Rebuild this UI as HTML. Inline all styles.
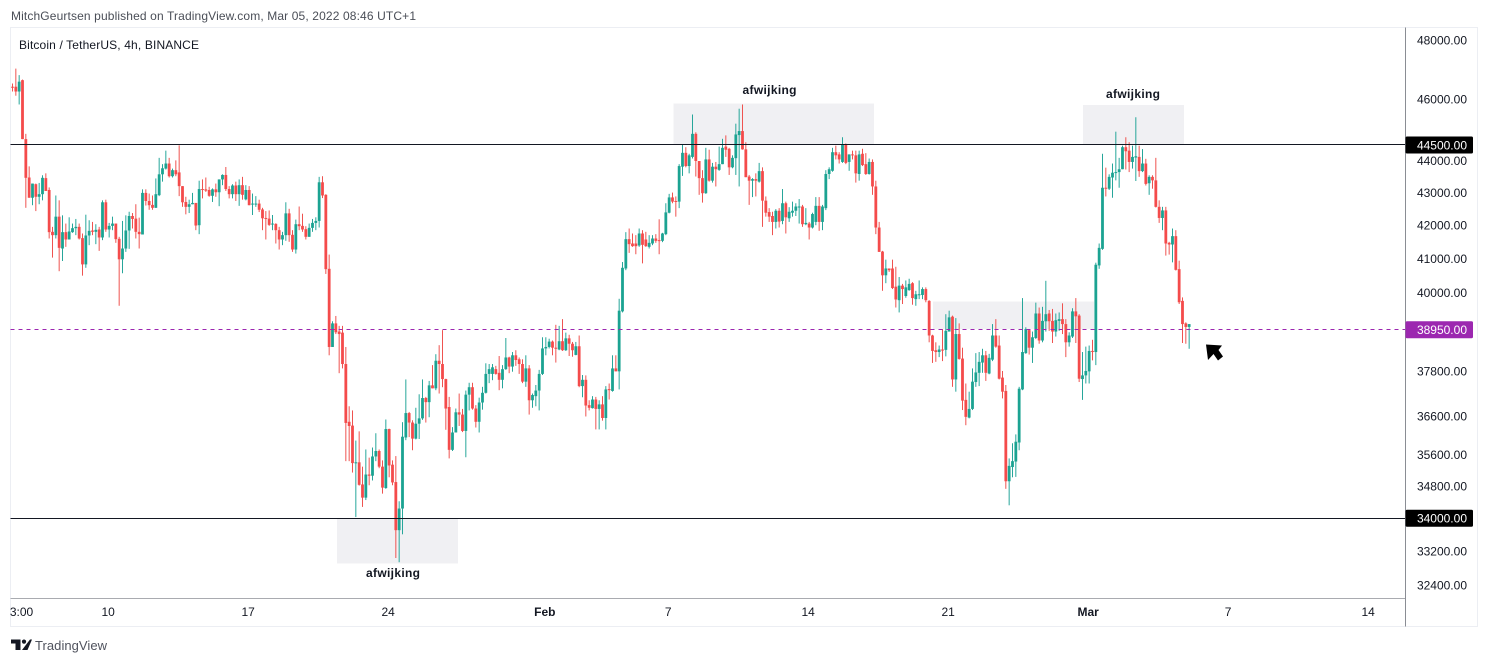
<!DOCTYPE html>
<html lang="en">
<head>
<meta charset="utf-8">
<title>Bitcoin / TetherUS, 4h, BINANCE</title>
<style>
html,body{margin:0;padding:0;background:#fff;width:1488px;height:663px;overflow:hidden}
svg{display:block;font-family:"Liberation Sans",Arial,sans-serif}
</style>
</head>
<body>
<svg id="chart" width="1488" height="663" viewBox="0 0 1488 663" xmlns="http://www.w3.org/2000/svg">
  <defs>
    <clipPath id="plot-clip"><rect x="10.5" y="27.5" width="1394.5" height="570"></rect></clipPath>
    <clipPath id="time-clip"><rect x="10.5" y="598" width="1394.5" height="28"></rect></clipPath>
  </defs>
  <text x="11" y="20" font-size="12" fill="#4a4e57" textLength="405" lengthAdjust="spacing">MitchGeurtsen published on TradingView.com, Mar 05, 2022 08:46 UTC+1</text>
  <rect x="10.5" y="27.5" width="1467" height="599" fill="#fff" stroke="#eceef3" stroke-width="1"></rect>
  <g>
    <rect x="337" y="518" width="121" height="45.5" fill="#f0f0f3"></rect>
    <rect x="673.5" y="103.5" width="200.5" height="41" fill="#f0f0f3"></rect>
    <rect x="933" y="301.5" width="161" height="27.5" fill="#f0f0f3"></rect>
    <rect x="1083" y="105" width="101" height="39.5" fill="#f0f0f3"></rect>
  </g>
  <g id="candles" clip-path="url(#plot-clip)"></g>
  <line x1="10.5" x2="1405" y1="144.5" y2="144.5" stroke="#131722" stroke-width="1"></line>
  <line x1="10.5" x2="1405" y1="518.5" y2="518.5" stroke="#131722" stroke-width="1"></line>
  <line x1="10.5" x2="1405" y1="329.5" y2="329.5" stroke="#9c27b0" stroke-width="1" stroke-dasharray="4 4"></line>
  <text x="19" y="49" font-size="12" fill="#131722" textLength="180" lengthAdjust="spacing">Bitcoin / TetherUS, 4h, BINANCE</text>
  <text x="393" y="577" font-size="12" font-weight="bold" fill="#131722" text-anchor="middle" textLength="54" lengthAdjust="spacing">afwijking</text>
  <text x="769.5" y="94" font-size="12" font-weight="bold" fill="#131722" text-anchor="middle" textLength="54" lengthAdjust="spacing">afwijking</text>
  <text x="1133" y="98" font-size="12" font-weight="bold" fill="#131722" text-anchor="middle" textLength="54" lengthAdjust="spacing">afwijking</text>
  <polygon points="1206,344.5 1222,345.5 1218.5,350 1223,356.5 1218,360.5 1213.5,354 1208,360" fill="#000"></polygon>
  <line x1="1405.5" x2="1405.5" y1="27.5" y2="626.5" stroke="#8a8d94" stroke-width="1"></line>
  <line x1="10.5" x2="1405" y1="598.5" y2="598.5" stroke="#a9abb0" stroke-width="1"></line>
  <g id="price-axis"></g>
  <g id="time-axis" clip-path="url(#time-clip)"></g>
  <g id="price-badges"></g>
  <g>
    <path d="M11 639.5H20.5V650H15.5V643.5H11Z M30 639.5H32L27.5 650H22Z" fill="#131722"></path>
    <circle cx="24" cy="641.6" r="2.1" fill="#131722"></circle>
    <text x="35" y="650" font-size="13" fill="#50535e" textLength="72" lengthAdjust="spacing">TradingView</text>
  </g>
</svg>
<script>
const opens = [
46410,46410,46250,46630,44690,43470,42840,43260,42870,42950,
43450,43080,41800,41700,42260,41300,41790,41570,41790,41910,
41950,41610,40830,41690,41840,41800,41870,41630,42700,41870,
41980,42050,41590,40980,41300,41840,42280,42200,41800,41720,
42990,42740,42620,42530,42920,43570,43750,43910,43510,43700,
43630,43200,42710,42560,42640,42680,42000,43110,43100,43080,
42900,43100,43010,43410,43550,43110,42950,43220,42950,43230,
42790,43080,42630,42640,42660,42480,42220,42200,42020,42040,
41850,41570,41700,42360,41710,41270,42030,41980,41880,41650,
41920,42070,42130,43320,42930,40700,38470,39130,38900,38870,
38000,36450,36350,35380,35400,34840,34510,35090,35060,35550,
35690,35290,34750,36260,35340,34900,33710,34240,36040,36680,
36430,36010,36400,36540,37080,36970,37420,37340,38090,38000,
37590,36840,35720,36170,36700,36640,36210,37170,37370,36800,
36450,36960,37220,37730,37730,37860,37760,37570,37860,38180,
37930,38240,38130,38000,37520,37880,37020,37130,37280,37730,
38430,38470,38620,38450,38400,38630,38380,38710,38560,38250,
38490,37400,37570,36890,36810,37040,36790,36910,36550,37320,
37270,37880,37800,39470,40710,41580,41450,41450,41390,41750,
41570,41350,41450,41600,41550,41530,41730,42380,42850,42740,
42720,43810,44250,43830,44120,44860,43990,43450,42980,44040,
43370,43810,43710,43890,44450,44380,43790,44080,44820,44950,
44360,43500,43370,43420,43340,43670,42750,42400,42280,42100,
42440,42130,42670,42210,42380,42440,42550,42570,42030,42050,
41930,42100,42590,42100,42520,43580,43680,44270,44200,43960,
44530,43960,44200,44170,43580,44220,43890,43580,43960,43190,
41930,41210,40510,40710,40710,40180,39790,40210,39910,40080,
40280,39820,39940,39940,40110,39770,38790,38380,38330,38400,
38390,38900,39320,37580,38830,38150,37030,36560,36790,37510,
37760,38040,38240,37740,38120,38790,38510,37630,37270,34920,
35280,35420,35910,37310,38300,38940,38450,38720,39410,38650,
39190,39410,39200,38900,39200,39250,39110,38600,38760,39470,
39350,37590,37690,37800,38360,38330,40800,41290,43150,43120,
43470,43610,43640,43730,44430,44320,43960,44100,44120,43670,
43910,43290,43490,43380,42560,42220,42450,41470,41420,41670,
40690,39770,39130,39030];
const highs = [
46520,47020,46800,46650,44860,43820,43280,43280,43300,43540,
43600,43160,41950,42910,42760,42300,42050,42240,42050,42190,
42050,41750,42320,42150,42100,42030,41950,42760,42780,42070,
42260,42050,41650,42130,42300,42410,42370,42640,42230,43100,
43100,42970,42910,43440,44090,43890,44320,44090,43750,44010,
44490,43200,42870,42780,42990,42680,43370,43410,43470,43180,
43130,43280,43410,43570,43800,43200,43260,43340,43410,43490,
43230,43200,42970,42890,42780,42530,42430,42450,42310,42060,
41950,41800,42700,42500,41850,42170,42570,42350,41970,42050,
42190,42240,43490,43510,42950,41120,39190,39340,39060,39060,
38470,36860,36750,35960,36200,35290,35730,35520,35780,36150,
35730,35450,36510,36270,35450,35560,34420,36440,37580,36710,
36490,36820,37180,37580,37110,37540,37970,38270,38520,38940,
37600,37110,36310,36800,37200,36790,37280,37490,37490,36890,
37090,37380,38020,38000,38000,37950,38220,37970,38720,38200,
38330,38380,38180,38130,38240,37970,37200,37430,37840,38740,
38740,38700,38650,39090,39060,39250,38870,38810,38610,38610,
38790,37700,37690,37020,37130,37110,37020,37130,37400,37470,
38240,38240,39830,40900,41790,41900,41750,41700,41900,41850,
41800,41700,41700,41730,42180,41770,42670,42960,43000,42880,
43890,44510,44430,44220,45490,44910,43990,43700,44410,44350,
43930,43960,44450,44700,44810,44410,44170,45190,45680,45820,
44590,43550,43450,43600,43930,43790,42880,42520,42410,42490,
42520,43110,42720,42550,42720,42670,42800,42620,42520,42100,
42380,42860,42860,42620,43700,43790,44410,44480,44270,44750,
44550,44200,44320,44320,44320,44380,44240,44070,44040,43370,
42100,41230,40970,40710,40970,40760,40460,40260,40360,40410,
40310,40060,40360,40160,40160,39790,38810,38600,38510,38970,
39390,39490,39350,39280,39130,38450,37470,37250,37880,38300,
38330,38420,38360,38280,39110,39250,38790,37810,37430,35500,
35890,36120,37380,39850,39020,38970,38900,39720,39580,39600,
40350,39510,39540,39410,39440,39700,39250,38880,39560,39850,
39390,38330,38480,38510,38670,40880,41450,44220,43780,43570,
43910,44930,44090,44480,44750,44590,44480,45400,44480,44370,
44060,43540,43540,44090,42760,42560,42560,41500,41900,41850,
40940,39870,39160,39110];
const lows = [
46250,46110,45820,44690,42530,42840,42610,42430,42640,42760,
43050,41600,41030,41600,40630,40930,41350,41570,41770,41700,
41570,40500,40730,41400,41700,41430,41230,41550,41800,41630,
41850,41470,39630,40570,41200,41290,41900,41600,41300,41720,
42600,42470,42470,42530,42890,43340,43720,43470,43470,43510,
42890,42560,42330,42370,42640,41850,41730,42820,43020,42870,
42710,42870,42580,43230,43050,42820,42820,42740,42590,42780,
42760,42610,42310,42560,42400,41850,41570,41980,41850,41450,
41270,41400,41530,41500,41200,41150,41850,41800,41570,41650,
41800,41850,41930,42830,40550,38240,38470,38830,37750,37880,
35430,35430,35140,34030,34810,34280,34450,34820,34940,35430,
35250,34610,34730,35020,34820,33040,32940,33610,35970,36050,
35710,35990,36000,36500,36430,36570,37340,37290,37200,37370,
36240,35500,35690,36170,36340,36180,35530,36750,36770,36300,
36170,36770,37200,37480,37560,37710,37290,37340,37840,37750,
37790,37950,37730,37480,37380,36640,36820,36860,36750,37700,
38240,38430,38240,38040,38380,38360,38360,38220,38200,38240,
37370,37100,36590,36750,36800,36250,36250,36480,36250,37040,
37250,37800,37310,39440,40660,41170,41350,41130,41350,40860,
41350,41300,41400,41470,41130,41490,41700,42360,42670,42260,
42520,43520,43790,43600,44070,43500,42930,42690,42960,43340,
43310,43190,43680,43890,44120,43550,43760,43550,43190,44350,
43480,42620,42860,42880,43310,41950,42260,42100,41700,41900,
41930,42030,41750,42100,42260,42280,42050,41950,42000,41570,
41900,42000,41830,41850,42460,43420,43650,44040,43910,43930,
43890,43680,44040,43310,43370,43830,43550,43560,42930,41730,
41200,40060,40280,40610,40110,39580,39440,39680,39860,40060,
39660,39630,39820,39820,39730,38600,38030,38060,38190,38080,
38210,38900,37380,37250,38120,36760,36360,36540,36760,37380,
37400,37760,37540,37720,38080,38450,37580,37070,34730,34320,
35020,35030,35710,37290,38280,38260,38030,38690,38560,38600,
38900,38920,38580,38760,38920,38830,38190,38480,38720,38580,
37510,37030,37470,37470,38100,37970,40700,41260,42880,43080,
42840,43380,43150,43730,43720,43640,43750,43360,43490,43640,
43220,42930,43120,42540,42070,41850,41090,41120,40890,40650,
39680,38580,38560,38420];
const closes = [
46390,46250,46580,44690,43460,42840,43280,42870,42950,43460,
43050,41790,41700,42260,41320,41790,41570,41810,41910,41950,
41600,40830,41690,41830,41800,41860,41630,42700,41870,41980,
42050,41580,40980,41300,41840,42280,42190,41800,41730,42990,
42740,42610,42530,42950,43570,43760,43910,43510,43700,43570,
43200,42700,42560,42640,42680,41990,43110,43080,43060,42900,
43100,43010,43410,43550,43110,42950,43220,42950,43230,42930,
43080,42610,42660,42660,42470,42210,42190,42010,42050,41850,
41570,41700,42360,41700,41270,42030,41970,41870,41650,41920,
42070,42130,43320,42910,40690,38470,39130,38880,38830,38000,
36420,36340,35380,35400,34830,34510,35090,35060,35550,35690,
35290,34760,36260,35320,34890,33710,34240,36060,36680,36430,
36010,36400,36540,37080,36970,37420,37340,38090,38000,37590,
36800,35720,36170,36700,36640,36210,37170,37370,36800,36450,
36960,37220,37730,37860,37910,37730,37570,37860,38180,37930,
38240,38110,38000,37520,37880,37020,37160,37280,37730,38430,
38470,38620,38450,38420,38630,38380,38710,38560,38380,38490,
37400,37570,36880,36820,37040,36790,36910,36550,37310,37290,
37880,37800,39490,40730,41580,41430,41370,41370,41750,41410,
41370,41470,41600,41530,41530,41750,42390,42850,42720,42720,
43830,44250,43830,44170,44860,43990,43450,42980,44040,43370,
43810,43730,43890,44410,44350,43790,44090,44840,44950,44360,
43480,43370,43420,43370,43670,42750,42380,42260,42100,42440,
42110,42670,42240,42410,42440,42570,42570,42030,42070,41930,
42340,42590,42100,42570,43580,43730,44270,44170,44040,44530,
43930,44200,44170,43600,44200,43860,43580,43960,43190,41930,
41200,40510,40710,40660,40140,39810,40210,40110,40160,40260,
39850,39960,39960,40110,39790,38790,38360,38330,38400,38370,
38920,39300,37580,38830,38140,37010,36580,36790,37520,37770,
38060,38240,37760,38170,38790,38480,37600,37250,34920,35310,
35430,35930,37330,38330,38970,38450,38740,39410,38650,39200,
39390,39190,38900,39220,39250,39110,38600,38790,39470,39330,
37600,37690,37810,38360,38340,40820,41320,43150,43120,43490,
43620,43640,43730,44430,44300,43960,44120,44140,43670,43910,
43270,43490,43380,42560,42220,42450,41450,41420,41670,40670,
39730,39110,39030,39110];

const priceTicks = [48000,46000,44000,43000,42000,41000,40000,37800,36600,35600,34800,33200,32400];
const badgePrices = [44500,34000,38950];
const badgeFills = ["#000000","#000000","#9c27b0"];
const timeLabels = ["13:00","10","17","24","Feb","7","14","21","Mar","7","14"];
const timeBars = [2,29,71,113,160,197,239,281,323,365,407];
const boldTimeLabels = ["Feb","Mar"];

const SVG_NS = "http://www.w3.org/2000/svg";
const BAR_ORIGIN = 12.5, BAR_STEP = 3.3333;
const PRICE_TOP = 48000, Y_TOP = 40, LOG_SCALE = 1387;
function xScale(bar){ return BAR_ORIGIN + BAR_STEP * bar; }
function yScale(price){ return Y_TOP + LOG_SCALE * Math.log(PRICE_TOP / price); }
function node(tag, parent){
  const el = document.createElementNS(SVG_NS, tag);
  parent.appendChild(el);
  return el;
}

const candleLayer = document.getElementById("candles");
opens.forEach(function(open, i){
  const close = closes[i];
  const up = close >= open;
  const x = xScale(i);
  const group = node("g", candleLayer);
  
  
  const wick = node("line", group);
  
  
  wick.setAttribute("x1", x);
  wick.setAttribute("x2", x);
  wick.setAttribute("y1", yScale(highs[i]));
  wick.setAttribute("y2", yScale(lows[i]));
  wick.setAttribute("stroke", up ? "#26a69a" : "#ef5350");
  wick.setAttribute("stroke-width", "1");
  const top = yScale(Math.max(open, close));
  const bottom = yScale(Math.min(open, close));
  const body = node("rect", group);
  
  
  body.setAttribute("x", x - 1.4);
  body.setAttribute("y", top);
  body.setAttribute("width", 2.8);
  body.setAttribute("height", Math.max(bottom - top, 1));
  body.setAttribute("fill", up ? "#1ba392" : "#f44b4b");
});

const priceAxis = document.getElementById("price-axis");
priceTicks.forEach(function(price){
  const label = node("text", priceAxis);
  
  
  label.setAttribute("x", 1467);
  label.setAttribute("y", yScale(price) + 4.3);
  label.setAttribute("font-size", "12");
  label.setAttribute("fill", "#131722");
  label.setAttribute("text-anchor", "end");
  label.textContent = price.toFixed(2);
});

const timeAxis = document.getElementById("time-axis");
timeLabels.forEach(function(text, i){
  const label = node("text", timeAxis);
  
  
  label.setAttribute("x", xScale(timeBars[i]) - 1);
  label.setAttribute("y", 616);
  label.setAttribute("font-size", "12");
  label.setAttribute("fill", "#131722");
  label.setAttribute("text-anchor", "middle");
  if (boldTimeLabels.indexOf(text) !== -1) label.setAttribute("font-weight", "bold");
  label.textContent = text;
});

const badgeLayer = document.getElementById("price-badges");
badgePrices.forEach(function(price, i){
  const y = yScale(price);
  const box = node("rect", badgeLayer);
  
  
  box.setAttribute("x", 1405.5);
  box.setAttribute("y", y - 8.5);
  box.setAttribute("width", 67.5);
  box.setAttribute("height", 17);
  box.setAttribute("rx", 1.5);
  box.setAttribute("fill", badgeFills[i]);
  const label = node("text", badgeLayer);
  
  
  label.setAttribute("x", 1467);
  label.setAttribute("y", y + 4.3);
  label.setAttribute("font-size", "12");
  label.setAttribute("fill", "#ffffff");
  label.setAttribute("text-anchor", "end");
  label.textContent = price.toFixed(2);
});
</script>
</body>
</html>
